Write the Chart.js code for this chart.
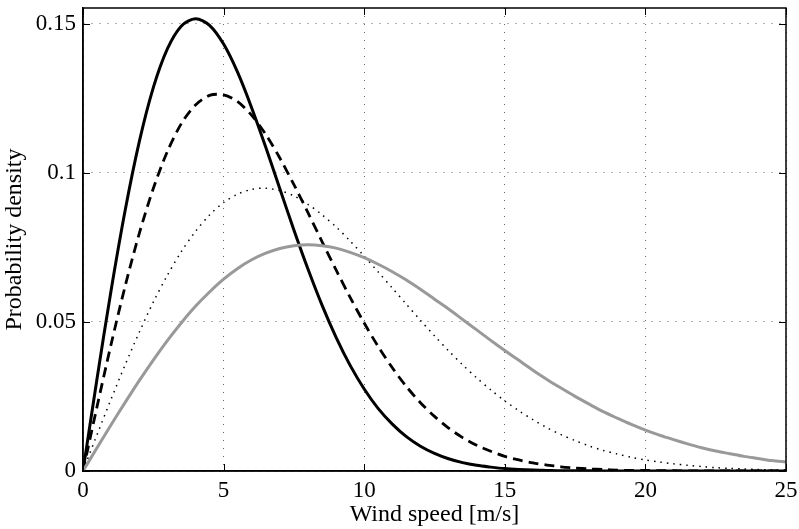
<!DOCTYPE html>
<html>
<head>
<meta charset="utf-8">
<script src="https://cdn.jsdelivr.net/npm/chart.js@4"></script>
<style>
  html, body { margin: 0; padding: 0; background: #fff; }
  #wrap { width: 799px; height: 529px; }
</style>
</head>
<body>
<div id="wrap"><canvas id="chart-wind" width="799" height="529"></canvas></div>
<script>
// wind speed samples [m/s]
const windSpeed = [0, 0.5, 1, 1.5, 2, 2.5, 3, 3.5, 4, 4.5, 5, 5.5, 6, 6.5, 7, 7.5, 8, 8.5, 9, 9.5,
    10, 10.5, 11, 11.5, 12, 12.5, 13, 13.5, 14, 14.5, 15, 15.5, 16, 16.5, 17, 17.5, 18, 18.5, 19, 19.5,
    20, 20.5, 21, 21.5, 22, 22.5, 23, 23.5, 24, 24.5, 25];

// probability density
const solidCurve = [0, 0.0310, 0.0606, 0.0874, 0.1103, 0.1285, 0.1415, 0.1492, 0.1516, 0.1494,
    0.1431, 0.1336, 0.1217, 0.1085, 0.0946, 0.0808, 0.0677, 0.0556, 0.0448, 0.0354,
    0.0275, 0.0209, 0.0157, 0.0115, 0.0083, 0.0059, 0.0041, 0.0028, 0.0019, 0.0013,
    0.0008, 0.0005, 0.0003, 0.0002, 0.0001, 0.0001, 0.0001, 0, 0, 0,
    0, 0, 0, 0, 0, 0, 0, 0, 0, 0, 0];
const dashedCurve = [0, 0.0216, 0.0425, 0.0620, 0.0796, 0.0947, 0.1071, 0.1165, 0.1227, 0.1259,
    0.1261, 0.1238, 0.1192, 0.1128, 0.1049, 0.0960, 0.0866, 0.0769, 0.0674, 0.0582,
    0.0496, 0.0417, 0.0346, 0.0283, 0.0229, 0.0183, 0.0144, 0.0112, 0.0086, 0.0066,
    0.0049, 0.0037, 0.0027, 0.0020, 0.0014, 0.0010, 0.0007, 0.0005, 0.0003, 0.0002,
    0.0002, 0.0001, 0.0001, 0, 0, 0, 0, 0, 0, 0, 0];
const dottedCurve = [0, 0.0122, 0.0241, 0.0356, 0.0465, 0.0566, 0.0656, 0.0736, 0.0803, 0.0858,
    0.0900, 0.0928, 0.0944, 0.0948, 0.0940, 0.0922, 0.0894, 0.0859, 0.0818, 0.0771,
    0.0720, 0.0667, 0.0613, 0.0559, 0.0505, 0.0453, 0.0403, 0.0356, 0.0312, 0.0272,
    0.0235, 0.0202, 0.0172, 0.0145, 0.0122, 0.0102, 0.0084, 0.0069, 0.0057, 0.0046,
    0.0037, 0.0030, 0.0024, 0.0019, 0.0015, 0.0011, 0.0009, 0.0007, 0.0005, 0.0004, 0.0003];
const greyCurve = [0, 0.0078, 0.0155, 0.0230, 0.0303, 0.0372, 0.0437, 0.0497, 0.0552, 0.0600,
    0.0643, 0.0679, 0.0708, 0.0730, 0.0746, 0.0755, 0.0758, 0.0755, 0.0747, 0.0733,
    0.0715, 0.0693, 0.0668, 0.0640, 0.0609, 0.0576, 0.0543, 0.0508, 0.0473, 0.0438,
    0.0404, 0.0371, 0.0338, 0.0307, 0.0278, 0.0250, 0.0224, 0.0199, 0.0177, 0.0156,
    0.0137, 0.0120, 0.0105, 0.0091, 0.0078, 0.0067, 0.0058, 0.0049, 0.0042, 0.0035, 0.0030];

const xTicks = [0, 5, 10, 15, 20, 25];
const yTicks = [0, 0.05, 0.1, 0.15];
const yTickLabels = ['0', '0.05', '0.1', '0.15'];

const serif = '"Liberation Serif", "Times New Roman", serif';

function toPoints(ys) {
    return windSpeed.map((x, i) => ({ x: x, y: ys[i] }));
}

// matlab style box with inward ticks
const boxPlugin = {
    id: 'boxPlugin',
    afterDraw(chart) {
        const ctx = chart.ctx;
        const a = chart.chartArea;
        const xs = chart.scales.x;
        const ys = chart.scales.y;
        const len = 7;
        ctx.save();
        ctx.strokeStyle = '#000';
        ctx.lineWidth = 1.5;
        ctx.strokeRect(a.left, a.top, a.right - a.left, a.bottom - a.top);
        ctx.lineWidth = 1;
        ctx.beginPath();
        xTicks.forEach(v => {
            const px = Math.round(xs.getPixelForValue(v)) + 0.5;
            ctx.moveTo(px, a.bottom); ctx.lineTo(px, a.bottom - len);
            ctx.moveTo(px, a.top); ctx.lineTo(px, a.top + len);
        });
        yTicks.forEach(v => {
            const py = Math.round(ys.getPixelForValue(v)) + 0.5;
            ctx.moveTo(a.left, py); ctx.lineTo(a.left + len, py);
            ctx.moveTo(a.right, py); ctx.lineTo(a.right - len, py);
        });
        ctx.stroke();
        ctx.restore();
    }
};

const element = document.getElementById('chart-wind');
const chart = new Chart(element, {
    type: 'line',
    data: {
        datasets: [
            {
                label: 'grey',
                data: toPoints(greyCurve),
                borderColor: '#999999',
                borderWidth: 3
            },
            {
                label: 'dotted',
                data: toPoints(dottedCurve),
                borderColor: '#000',
                borderWidth: 1.5,
                borderDash: [1.5, 5]
            },
            {
                label: 'dashed',
                data: toPoints(dashedCurve),
                borderColor: '#000',
                borderWidth: 2.8,
                borderDash: [10, 6]
            },
            {
                label: 'solid',
                data: toPoints(solidCurve),
                borderColor: '#000',
                borderWidth: 3
            }
        ]
    },
    options: {
        responsive: false,
        animation: false,
        layout: { padding: { left: 0, right: 13, top: 8, bottom: 0 } },
        elements: {
            point: { radius: 0 },
            line: { tension: 0.3, fill: false }
        },
        plugins: {
            legend: { display: false },
            tooltip: { enabled: false }
        },
        scales: {
            x: {
                type: 'linear',
                min: 0,
                max: 25,
                afterFit(scale) {
                    scale.height = 58;
                    scale.paddingLeft = 0;
                    scale.paddingRight = 0;
                },
                afterBuildTicks(scale) { scale.ticks = xTicks.map(v => ({ value: v })); },
                grid: { color: '#666', lineWidth: 1, drawTicks: false },
                border: { display: true, color: '#000', width: 1.5, dash: [1, 7] },
                ticks: {
                    padding: 6,
                    color: '#000',
                    font: { family: serif, size: 23 },
                    maxRotation: 0
                },
                title: {
                    display: true,
                    text: 'Wind speed [m/s]',
                    color: '#000',
                    font: { family: serif, size: 24 },
                    padding: { top: 0, bottom: 0 }
                }
            },
            y: {
                type: 'linear',
                min: 0,
                max: 0.1552,
                afterFit(scale) {
                    scale.width = 83;
                    scale.paddingTop = 0;
                    scale.paddingBottom = 0;
                },
                afterBuildTicks(scale) { scale.ticks = yTicks.map(v => ({ value: v })); },
                grid: { color: '#666', lineWidth: 1, drawTicks: false },
                border: { display: true, color: '#000', width: 1.5, dash: [1, 7] },
                ticks: {
                    padding: 7,
                    color: '#000',
                    font: { family: serif, size: 23 },
                    callback: (v, i) => yTickLabels[yTicks.indexOf(v)]
                },
                title: {
                    display: true,
                    text: 'Probability density',
                    color: '#000',
                    font: { family: serif, size: 24 },
                    padding: { top: 0, bottom: 0 }
                }
            }
        }
    },
    plugins: [boxPlugin]
});
</script>
</body>
</html>
